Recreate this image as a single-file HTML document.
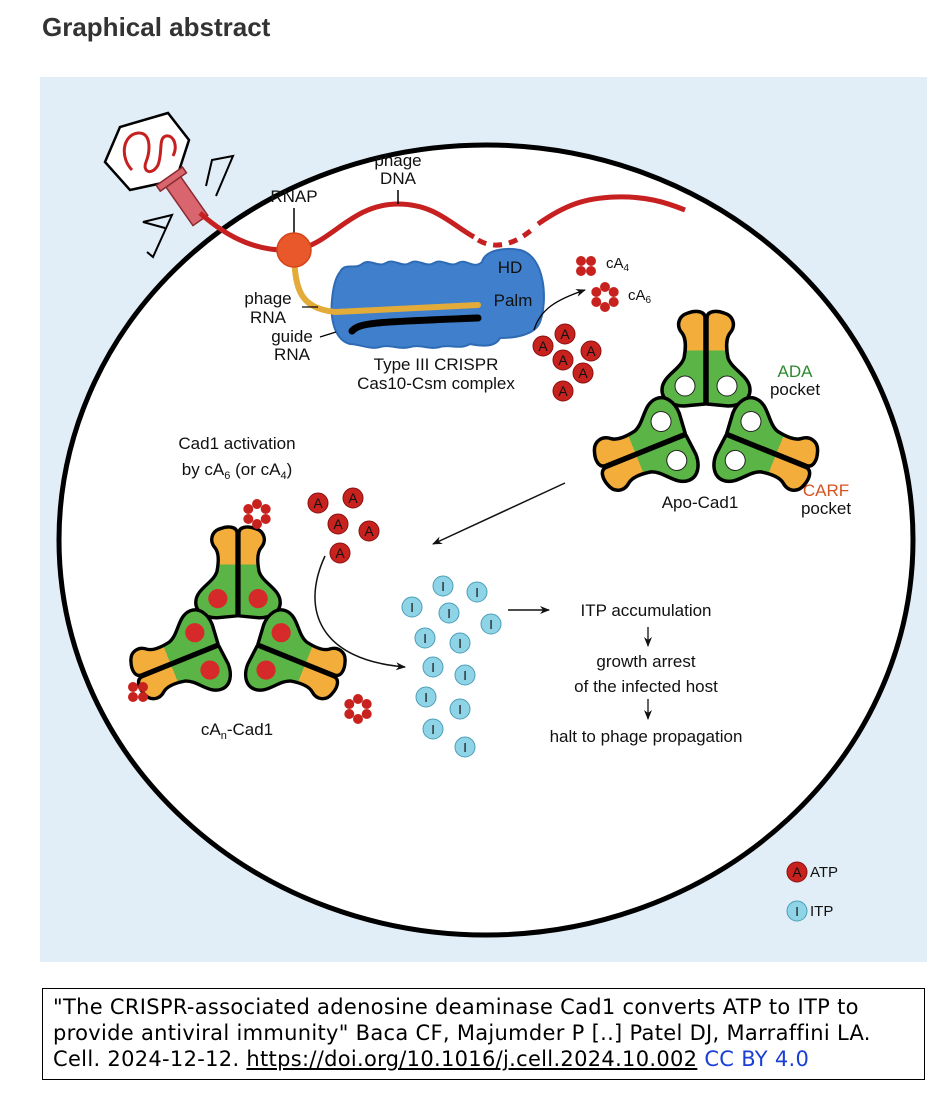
<!DOCTYPE html>
<html><head><meta charset="utf-8"><style>
body{margin:0;background:#fff;width:946px;height:1110px;overflow:hidden;font-family:"Liberation Sans",sans-serif}
h1{position:absolute;left:42px;top:12px;margin:0;font-size:26px;font-weight:bold;color:#333}
.cap{position:absolute;left:42px;top:988px;width:863px;height:80px;border:1.5px solid #000;padding:5px 8px 5px 10px;font-family:"DejaVu Sans",sans-serif;font-size:21px;letter-spacing:0.3px;line-height:26px;color:#000;white-space:nowrap;overflow:hidden}
.cap a{color:#000;text-decoration:underline}
.cap .cc{color:#1a3fd6;text-decoration:none}
</style></head><body>
<h1>Graphical abstract</h1>
<svg width="946" height="1110" style="position:absolute;left:0;top:0">
<defs>
<clipPath id="pc"><rect x="40" y="77" width="887" height="885"/></clipPath>
<linearGradient id="g" gradientUnits="userSpaceOnUse" x1="0" y1="-120" x2="0" y2="0">
<stop offset="0.37" stop-color="#f2ad3a"/><stop offset="0.37" stop-color="#5bb446"/></linearGradient>
<g id="half"><path d="M -1,-22 L -1,-108 C -1,-115 -10,-116 -18,-113 C -28,-110 -30,-100 -24,-93 C -20,-88 -20,-78 -22,-68 C -26,-56 -44,-50 -44,-36 C -44,-26 -34,-20 -22,-20 Z" fill="url(#g)" stroke="#000" stroke-width="3.5" stroke-linejoin="round"/></g>
<g id="armW"><use href="#half"/><use href="#half" transform="scale(-1,1)"/><circle cx="-21" cy="-40" r="10" fill="#fff" stroke="#222" stroke-width="1"/><circle cx="21" cy="-40" r="10" fill="#fff" stroke="#222" stroke-width="1"/></g>
<g id="armR"><use href="#half"/><use href="#half" transform="scale(-1,1)"/><circle cx="-21" cy="-40" r="10" fill="#d62a2a"/><circle cx="21" cy="-40" r="10" fill="#d62a2a"/></g>
<g id="cA6" fill="#c8221f"><circle cx="0" cy="-10" r="5"/><circle cx="8.7" cy="-5" r="5"/><circle cx="8.7" cy="5" r="5"/><circle cx="0" cy="10" r="5"/><circle cx="-8.7" cy="5" r="5"/><circle cx="-8.7" cy="-5" r="5"/></g>
<g id="cA4" fill="#c8221f"><circle cx="-5" cy="-5" r="5"/><circle cx="5" cy="-5" r="5"/><circle cx="-5" cy="5" r="5"/><circle cx="5" cy="5" r="5"/></g>
<g id="A"><circle r="10" fill="#c8221f" stroke="#8a1010" stroke-width="1"/><text y="5" text-anchor="middle" font-size="14" fill="#111" font-family="Liberation Sans">A</text></g>
<g id="I"><circle r="10" fill="#8fd3e6" stroke="#4a9fb8" stroke-width="1"/><text y="5" text-anchor="middle" font-size="13" fill="#111" font-family="Liberation Sans">I</text></g>
<marker id="ar" markerWidth="10" markerHeight="8" refX="9" refY="4" orient="auto" markerUnits="userSpaceOnUse"><path d="M0,0 L10,4 L0,8 L3,4 Z" fill="#111"/></marker>
</defs>
<rect x="40" y="77" width="887" height="885" fill="#e1eef7"/>
<g clip-path="url(#pc)"><ellipse cx="486" cy="540" rx="427" ry="395" fill="#fff" stroke="#000" stroke-width="5"/></g>
<!-- phage -->
<polygon points="105,162 120,127 168,113 189,140 176,180 130,190" fill="#fff" stroke="#000" stroke-width="2.5"/>
<path d="M132,170 C120,158 122,135 138,133 C152,132 150,152 146,162 C142,172 152,176 158,165 C163,152 158,138 166,136 C174,135 178,146 173,156" fill="none" stroke="#c62020" stroke-width="3"/>
<g transform="translate(186,200) rotate(-35)"><rect x="-9" y="-25" width="18" height="50" fill="#d9656e" stroke="#8a2a30" stroke-width="1.5"/><rect x="-16" y="-29" width="32" height="7" fill="#d9656e" stroke="#8a2a30" stroke-width="1.5"/></g>
<path d="M206,186 L212,160 L233,156 L216,196" fill="none" stroke="#000" stroke-width="2"/>
<path d="M165,228 L143,222 L172,215 L153,257 L147,252" fill="none" stroke="#000" stroke-width="2"/>
<!-- DNA -->
<path d="M200,213 C230,240 260,252 294,250 C330,246 350,204 398,204 C435,204 452,225 474,237" fill="none" stroke="#c62020" stroke-width="5"/>
<path d="M478,240 C495,250 515,245 535,227" fill="none" stroke="#c62020" stroke-width="5" stroke-dasharray="9,7"/>
<path d="M538,224 C565,205 585,198 615,197 C645,196 665,202 685,210" fill="none" stroke="#c62020" stroke-width="5"/>
<line x1="398" y1="190" x2="398" y2="204" stroke="#000" stroke-width="1.5"/>
<line x1="294" y1="208" x2="294" y2="233" stroke="#000" stroke-width="1.5"/>
<!-- Cas10 -->
<path d="M340,272 C345,262 355,270 362,264 C370,258 378,268 386,263 C394,258 402,268 410,263 C418,258 426,268 434,263 C442,258 450,268 458,263 C466,258 474,270 482,262 C485,250 505,247 520,250 C545,256 548,300 540,322 C535,335 515,338 500,338 C495,348 480,346 470,344 C460,350 450,344 440,347 C430,350 420,344 410,347 C400,350 390,344 380,347 C370,350 360,344 350,344 C335,340 330,320 332,300 C333,288 335,278 340,272 Z" fill="#3f7fcb" stroke="#2f6bb5" stroke-width="2"/>
<path d="M294,258 C296,290 300,308 335,312 L478,305" fill="none" stroke="#e3ab3a" stroke-width="6" stroke-linecap="round"/>
<path d="M352,331 C360,322 380,322 478,318" fill="none" stroke="#000" stroke-width="7" stroke-linecap="round"/>
<circle cx="294" cy="250" r="17" fill="#e8582a" stroke="#d4441a" stroke-width="1.5"/>
<line x1="302" y1="307" x2="318" y2="307" stroke="#000" stroke-width="1.2"/>
<line x1="320" y1="337" x2="336" y2="332" stroke="#000" stroke-width="1.2"/>
<path d="M534,330 C540,310 555,300 585,290" fill="none" stroke="#000" stroke-width="1.3" marker-end="url(#ar)"/>
<g font-size="17" fill="#111" text-anchor="middle">
<text x="398" y="166">phage</text><text x="398" y="184">DNA</text>
<text x="294" y="202">RNAP</text>
<text x="268" y="304">phage</text><text x="268" y="323">RNA</text>
<text x="292" y="342">guide</text><text x="292" y="360">RNA</text>
<text x="436" y="370">Type III CRISPR</text><text x="436" y="389">Cas10-Csm complex</text>
<text x="510" y="273" fill="#111">HD</text><text x="513" y="306">Palm</text>
<text x="237" y="449">Cad1 activation</text><text x="237" y="475">by cA<tspan font-size="11" dy="4">6</tspan><tspan dy="-4"> (or cA</tspan><tspan font-size="11" dy="4">4</tspan><tspan dy="-4">)</tspan></text>
<text x="237" y="735">cA<tspan font-size="11" dy="4">n</tspan><tspan dy="-4">-Cad1</tspan></text>
<text x="700" y="508">Apo-Cad1</text>
<text x="795" y="377" fill="#2e8a2e">ADA</text><text x="795" y="395">pocket</text>
<text x="826" y="496" fill="#d4531f">CARF</text><text x="826" y="514">pocket</text>
<text x="646" y="616">ITP accumulation</text>
<text x="646" y="667">growth arrest</text><text x="646" y="692">of the infected host</text>
<text x="646" y="742">halt to phage propagation</text>
</g>
<g font-size="15" fill="#111"><text x="606" y="268">cA<tspan font-size="10" dy="3">4</tspan></text><text x="628" y="300">cA<tspan font-size="10" dy="3">6</tspan></text>
<text x="810" y="877">ATP</text><text x="810" y="916">ITP</text></g>
<use href="#cA4" x="586" y="266"/><use href="#cA6" x="605" y="297"/>
<use href="#A" x="543" y="346"/><use href="#A" x="565" y="334"/><use href="#A" x="563" y="360"/><use href="#A" x="591" y="351"/><use href="#A" x="583" y="373"/><use href="#A" x="563" y="391"/>
<use href="#A" x="797" y="872"/><use href="#I" x="797" y="911"/>
<!-- Apo Cad1 -->
<g transform="translate(706,426)"><use href="#armW"/><use href="#armW" transform="rotate(-112)"/><use href="#armW" transform="rotate(112)"/></g>
<!-- active -->
<g transform="translate(238,637) scale(0.96)"><use href="#armR"/><use href="#armR" transform="rotate(-112)"/><use href="#armR" transform="rotate(112)"/></g>
<use href="#cA6" x="257" y="514"/><use href="#cA4" x="138" y="692"/><use href="#cA6" x="358" y="709"/>
<use href="#A" x="318" y="503"/><use href="#A" x="353" y="498"/><use href="#A" x="338" y="524"/><use href="#A" x="369" y="531"/><use href="#A" x="340" y="553"/>
<!-- ITP -->
<use href="#I" x="443" y="586"/><use href="#I" x="477" y="592"/><use href="#I" x="412" y="607"/><use href="#I" x="449" y="613"/><use href="#I" x="491" y="624"/>
<use href="#I" x="425" y="638"/><use href="#I" x="460" y="643"/><use href="#I" x="433" y="667"/><use href="#I" x="465" y="675"/>
<use href="#I" x="426" y="697"/><use href="#I" x="460" y="709"/><use href="#I" x="433" y="729"/><use href="#I" x="465" y="747"/>
<!-- arrows -->
<line x1="565" y1="483" x2="433" y2="544" stroke="#111" stroke-width="1.5" marker-end="url(#ar)"/>
<path d="M325,556 C300,610 320,660 405,667" fill="none" stroke="#111" stroke-width="1.5" marker-end="url(#ar)"/>
<line x1="508" y1="610" x2="549" y2="610" stroke="#111" stroke-width="1.5" marker-end="url(#ar)"/>
<line x1="648" y1="627" x2="648" y2="646" stroke="#111" stroke-width="1.3" marker-end="url(#ar)"/>
<line x1="648" y1="699" x2="648" y2="719" stroke="#111" stroke-width="1.3" marker-end="url(#ar)"/>
</svg>
<div class="cap">"The CRISPR-associated adenosine deaminase Cad1 converts ATP to ITP to<br>provide antiviral immunity" Baca CF, Majumder P [..] Patel DJ, Marraffini LA.<br>Cell. 2024-12-12. <a>https://doi.org/10.1016/j.cell.2024.10.002</a> <a class="cc">CC BY 4.0</a></div>
</body></html>
